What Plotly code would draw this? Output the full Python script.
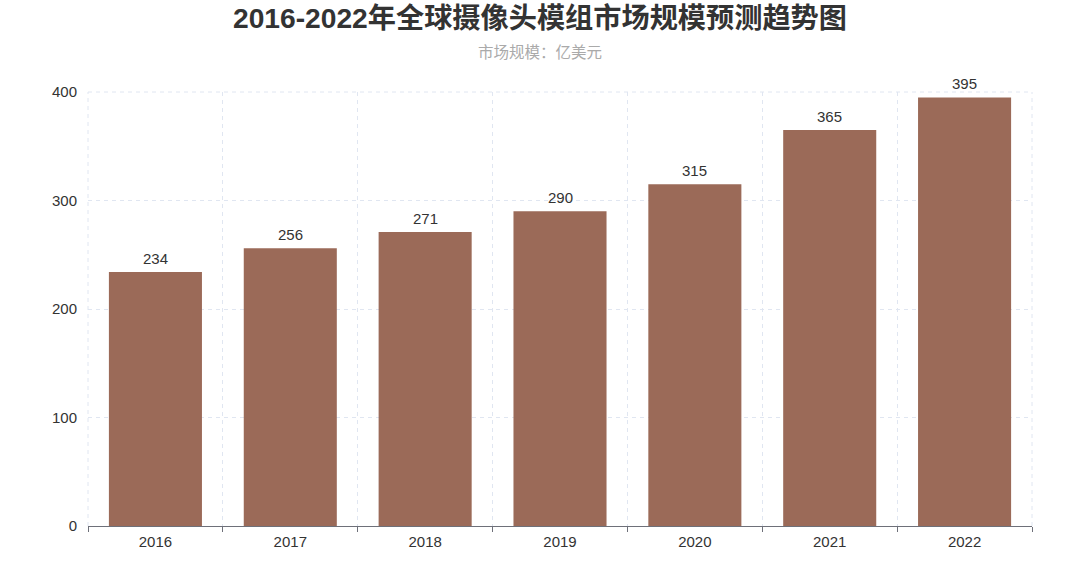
import plotly.graph_objects as go

years = ["2016", "2017", "2018", "2019", "2020", "2021", "2022"]
values = [234, 256, 271, 290, 315, 365, 395]
title_text = "2016-2022年全球摄像头模组市场规模预测趋势图"
subtitle_text = "市场规模：亿美元"

FONT = "Liberation Sans, Noto Sans CJK SC, sans-serif"
GRID = "#e0e6f1"
CX = (540 - 88) / (1080 - 88 - 48)  # horizontal centre of the page in paper units

fig = go.Figure(
    go.Bar(
        x=years,
        y=values,
        marker=dict(color="#9b6a58", line=dict(width=0)),
        hoverinfo="x+y",
    )
)

annotations = [
    dict(text="<b>" + title_text + "</b>", x=CX, y=1, xref="paper", yref="paper",
         xanchor="center", yanchor="top", yshift=92 - 1, showarrow=False,
         borderpad=0,
         font=dict(size=28.2, color="#333333", family=FONT)),
    dict(text=subtitle_text, x=CX, y=1, xref="paper", yref="paper",
         xanchor="center", yanchor="top", yshift=92 - 42, showarrow=False,
         font=dict(size=15.5, color="#aaaaaa", family=FONT)),
]
for i, v in enumerate(values):
    annotations.append(dict(text=str(v), x=i, y=v, xref="x", yref="y",
                            xanchor="center", yanchor="bottom", yshift=3,
                            showarrow=False,
                            font=dict(size=15, color="#333333", family=FONT)))

fig.update_layout(
    width=1080,
    height=575,
    margin=dict(l=88, r=48, t=92, b=49),
    paper_bgcolor="white",
    plot_bgcolor="white",
    bargap=0.31,
    showlegend=False,
    font=dict(family=FONT, color="#333333", size=14),
    annotations=annotations,
    shapes=[
        dict(type="line", xref="paper", yref="paper", x0=0, x1=0, y0=0, y1=1,
             line=dict(color=GRID, width=1, dash="4px,4px"), layer="below"),
        dict(type="line", xref="paper", yref="paper", x0=1, x1=1, y0=0, y1=1,
             line=dict(color=GRID, width=1, dash="4px,4px"), layer="below"),
        dict(type="line", xref="paper", yref="paper", x0=0, x1=1, y0=1, y1=1,
             line=dict(color=GRID, width=1, dash="4px,4px"), layer="below"),
    ],
)

fig.update_xaxes(
    type="category",
    tickson="boundaries",
    showgrid=True,
    gridcolor=GRID,
    griddash="4px,4px",
    gridwidth=1,
    showline=True,
    linecolor="#6e7079",
    linewidth=1,
    ticks="outside",
    ticklen=5,
    tickcolor="#6e7079",
    ticklabelstandoff=2,
    tickfont=dict(size=15, color="#333333"),
    zeroline=False,
)

fig.update_yaxes(
    range=[0, 400],
    tickvals=[0, 100, 200, 300, 400],
    showgrid=True,
    gridcolor=GRID,
    griddash="4px,4px",
    gridwidth=1,
    showline=False,
    zeroline=False,
    ticks="",
    ticklabelstandoff=10,
    tickfont=dict(size=15, color="#333333"),
)

fig.write_html("out.html",
               config={"displayModeBar": False},
               post_script="document.body.style.margin='0';document.body.style.overflow='hidden';")
